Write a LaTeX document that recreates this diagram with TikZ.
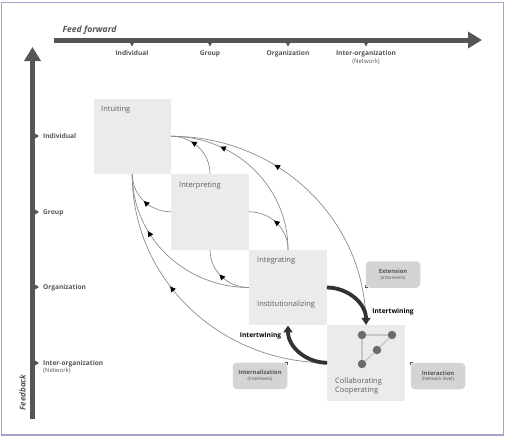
\documentclass[tikz,border=0pt]{standalone}
\usepackage{fontspec}
\setmainfont{Open Sans}
\usetikzlibrary{arrows.meta,decorations.markings}
\definecolor{framelilac}{RGB}{165,162,205}
\definecolor{axisgrey}{RGB}{85,85,85}
\definecolor{stagegrey}{RGB}{235,235,235}
\definecolor{modegrey}{RGB}{212,212,212}
\definecolor{stagetext}{RGB}{95,95,95}
\definecolor{curvegrey}{RGB}{140,140,140}
\definecolor{thickgrey}{RGB}{50,50,50}
\tikzset{
  stage/.style={fill=stagegrey, minimum width=77.5pt, minimum height=75.5pt, inner sep=0pt},
  stagelabel/.style={anchor=west, inner sep=0pt, text=stagetext, font=\fontsize{7.5}{9}\selectfont},
  axisarrow/.style={line width=5pt, axisgrey, -{Triangle[width=16pt,length=14pt]}},
  levellabel/.style={inner sep=0pt, text=axisgrey, font=\fontsize{6.6}{8}\selectfont\bfseries},
  netlabel/.style={inner sep=0pt, text=axisgrey, font=\fontsize{6}{7}\selectfont},
  feedback/.style={curvegrey, line width=0.7pt, postaction={decorate}, decoration={markings,
    mark=at position #1 with {\arrow[black]{Triangle[width=5.5pt,length=5.5pt]}}}},
  twine/.style={thickgrey, line width=3.8pt, -{Triangle[width=9pt,length=7pt]}},
  twinelabel/.style={inner sep=0pt, font=\fontsize{6.6}{8}\selectfont\bfseries},
  mode/.style={fill=modegrey, rounded corners=4pt, minimum width=54.5pt, minimum height=26.5pt, inner sep=0pt,
    align=center, text=axisgrey, font=\fontsize{5.8}{6.5}\selectfont\bfseries},
  peer/.style={circle, fill=black!58, minimum size=8.5pt, inner sep=0pt},
  peerlink/.style={black!22, line width=1.2pt},
  cornermark/.style={axisgrey, line width=0.8pt}
}
\newcommand{\sublabel}[1]{\\[-1pt]{\fontsize{4.6}{5}\selectfont\mdseries #1}}
\begin{document}
\begin{tikzpicture}[x=1pt,y=-1pt]
  \useasboundingbox (0,0) rectangle (506,437);
  \draw[framelilac, line width=1.5pt] (1.5,2.5) rectangle (503.5,435);

  % feed forward axis
  \coordinate (ffstart) at (54,40);
  \coordinate (ffend) at (482,40);
  \draw[axisarrow] (ffstart) -- (ffend);
  \node[inner sep=0pt, text=axisgrey, font=\fontsize{8.6}{10}\selectfont\bfseries\itshape] (fflabel) at (89.5,30.5) {Feed forward};
  \foreach \x/\nm/\t in {132/ffa/Individual, 210/ffb/Group, 288/ffc/Organization, 366/ffd/Inter-organization} {
    \fill[axisgrey] (\x-2.5,42) -- (\x+2.5,42) -- (\x,46.5) -- cycle;
    \node[levellabel] (\nm) at (\x,53.5) {\t};
  }
  \node[netlabel] (ffnet) at (366,61.5) {(Network)};

  % feedback axis
  \coordinate (fbstart) at (32.5,419);
  \coordinate (fbend) at (32.5,47);
  \draw[axisarrow] (fbstart) -- (fbend);
  \node[inner sep=0pt, rotate=90, text=axisgrey, font=\fontsize{8}{10}\selectfont\bfseries\itshape] (fblabel) at (22.5,392.5) {Feedback};
  \foreach \y/\nm/\t in {136/fba/Individual, 212/fbb/Group, 287/fbc/Organization, 363/fbd/Inter-organization} {
    \fill[axisgrey] (35,\y-2.5) -- (35,\y+2.5) -- (39,\y) -- cycle;
    \node[levellabel, anchor=west] (\nm) at (43,\y+0.5) {\t};
  }
  \node[netlabel, anchor=west] (fbnet) at (43,371) {(Network)};

  % the four stages
  \node[stage] (intuiting) at (132.25,136.25) {};
  \node[stage] (interpreting) at (210,211.75) {};
  \node[stage] (integrating) at (288,287.5) {};
  \node[stage] (collaborating) at (366,362.75) {};
  \node[stagelabel] (intuitinglabel) at (101,109.5) {Intuiting};
  \node[stagelabel] (interpretinglabel) at (179,185.5) {Interpreting};
  \node[stagelabel] (integratinglabel) at (257,260.5) {Integrating};
  \node[stagelabel] (institutionalizinglabel) at (257,304.5) {Institutionalizing};
  \node[stagelabel] (collaboratinglabel) at (335,381.5) {Collaborating};
  \node[stagelabel] (cooperatinglabel) at (335,391) {Cooperating};

  % thin feedback curves, upper side
  \draw[feedback=0.65] (interpreting.north) to[out=90,in=0] (intuiting.east);
  \draw[feedback=0.72] (integrating.north) to[out=90,in=0] (intuiting.east);
  \draw[feedback=0.64] (collaborating.north) to[out=90,in=0] (intuiting.east);
  \draw[feedback=0.55] (integrating.north) to[out=90,in=0] (interpreting.east);
  % thin feedback curves, lower side
  \draw[feedback=0.5] (interpreting.west) to[out=180,in=-90] (intuiting.south);
  \draw[feedback=0.67] (integrating.west) to[out=180,in=-90] (intuiting.south);
  \draw[feedback=0.6] (collaborating.west) to[out=180,in=-90] (intuiting.south);
  \draw[feedback=0.55] (integrating.west) to[out=180,in=-90] (interpreting.south);

  % intertwining
  \draw[twine] (integrating.east) to[out=0,in=90] (collaborating.north);
  \draw[twine] (collaborating.west) to[out=180,in=-90] (integrating.south);
  \node[twinelabel] (twineright) at (393,312) {Intertwining};
  \node[twinelabel] (twineleft) at (260.5,336) {Intertwining};

  % modes of exchange
  \node[mode] (extension) at (393,274.5) {Extension\sublabel{(Interlevels)}};
  \node[mode] (internalization) at (260,375.75) {Internalization\sublabel{(Interlevels)}};
  \node[mode] (interaction) at (438,376) {Interaction\sublabel{(Network level)}};
  \draw[cornermark] (extension.south west) ++(0,-2.5) -- ++(0,2) -- ++(2.5,0);
  \draw[cornermark] (internalization.north east) ++(-2.5,0.5) -- ++(2.5,0) -- ++(0,2);
  \draw[cornermark] (interaction.north west) ++(0,2.5) -- ++(0,-2.5) -- ++(2.5,0);

  % small network inside the last stage
  \node[peer] (peera) at (362,335) {};
  \node[peer] (peerb) at (392,335) {};
  \node[peer] (peerc) at (377,350) {};
  \node[peer] (peerd) at (362,364) {};
  \draw[peerlink] (peera) -- (peerb);
  \draw[peerlink] (peera) -- (peerd);
  \draw[peerlink] (peerb) -- (peerc);
  \draw[peerlink] (peerc) -- (peerd);
\end{tikzpicture}
\end{document}
